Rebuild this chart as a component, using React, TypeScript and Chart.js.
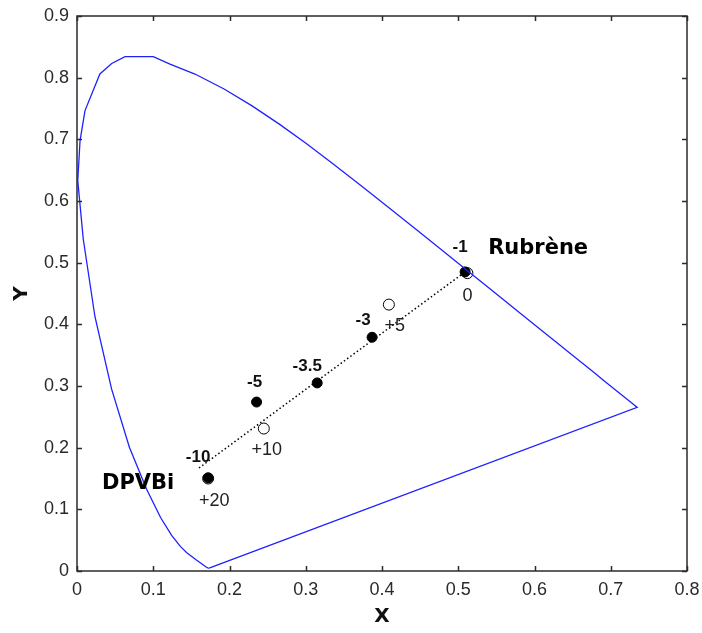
import React, { useEffect, useRef } from 'react';
import { Chart, registerables } from 'chart.js';

Chart.register(...registerables);

// Spectral locus (CIE 1931)
const locusX = [
  0.1741, 0.1733, 0.1714, 0.1689, 0.1644, 0.1566, 0.1440, 0.1355, 0.1241, 0.1096,
  0.0913, 0.0687, 0.0454, 0.0235, 0.0082, 0.0010, 0.0040, 0.0105, 0.0300, 0.0455,
  0.0630, 0.1000, 0.1220, 0.1547, 0.1929, 0.2296, 0.2658, 0.3016, 0.3373, 0.3731,
  0.4087, 0.4441, 0.4788, 0.5125, 0.5448, 0.5752, 0.6029, 0.6270, 0.6482, 0.6658,
  0.6801, 0.6915, 0.7006, 0.7079, 0.7140, 0.7190, 0.7230, 0.7260, 0.7300, 0.7347,
  0.1741,
];
const locusY = [
  0.0050, 0.0048, 0.0051, 0.0069, 0.0109, 0.0177, 0.0297, 0.0399, 0.0578, 0.0868,
  0.1327, 0.2007, 0.2950, 0.4127, 0.5384, 0.6330, 0.6980, 0.7466, 0.8060, 0.8230,
  0.8340, 0.8340, 0.8220, 0.8059, 0.7816, 0.7543, 0.7243, 0.6923, 0.6589, 0.6245,
  0.5896, 0.5547, 0.5202, 0.4866, 0.4544, 0.4242, 0.3965, 0.3725, 0.3514, 0.3340,
  0.3197, 0.3083, 0.2993, 0.2920, 0.2859, 0.2809, 0.2770, 0.2740, 0.2700, 0.2653,
  0.0050,
];

// Dotted mixing line DPVBi -> Rubrène
const mixLineX = [0.160, 0.509];
const mixLineY = [0.167, 0.485];

// Filled points (negative values)
const filledLabels = ['-1', '-3', '-3.5', '-5', '-10'];
const filledX = [0.509, 0.387, 0.315, 0.2355, 0.172];
const filledY = [0.485, 0.379, 0.305, 0.274, 0.151];

// Open points (positive values)
const openLabels = ['0', '+5', '+10', '+20'];
const openX = [0.512, 0.409, 0.245, 0.172];
const openY = [0.483, 0.432, 0.231, 0.150];

// Material names
const materialNames = ['Rubrène', 'DPVBi'];

// Tick values
const xTicks = [0, 0.1, 0.2, 0.3, 0.4, 0.5, 0.6, 0.7, 0.8];
const yTicks = [0, 0.1, 0.2, 0.3, 0.4, 0.5, 0.6, 0.7, 0.8, 0.9];

// Pixel offsets of the labels (styling only)
const filledLabelOffsets = [[-5, -25], [-9, -17], [-10, -17], [-2, -20], [-10, -21]];
const openLabelOffsets = [[0, 23], [6, 21], [3, 21], [6, 23]];
const nameOffsets = [[73, -23], [-70, 6]]; // relative to filled points -1 and -10
const nameAnchorIndex = [0, 4];

const AXIS_COLOR = '#2b2b2b';

const toPts = (xs: number[], ys: number[]) => xs.map((x, i) => ({ x, y: ys[i] }));

const framePlugin = {
  id: 'matlabFrame',
  afterDatasetsDraw(chart: any) {
    const { ctx, chartArea: a, scales } = chart;
    const len = 5;
    ctx.save();
    ctx.strokeStyle = AXIS_COLOR;
    ctx.lineWidth = 1.5;
    ctx.strokeRect(a.left, a.top, a.right - a.left, a.bottom - a.top);
    ctx.beginPath();
    for (const v of xTicks) {
      const px = Math.round(scales.x.getPixelForValue(v)) + 0.5;
      ctx.moveTo(px, a.bottom);
      ctx.lineTo(px, a.bottom - len);
      ctx.moveTo(px, a.top);
      ctx.lineTo(px, a.top + len);
    }
    for (const v of yTicks) {
      const py = Math.round(scales.y.getPixelForValue(v)) + 0.5;
      ctx.moveTo(a.left, py);
      ctx.lineTo(a.left + len, py);
      ctx.moveTo(a.right, py);
      ctx.lineTo(a.right - len, py);
    }
    ctx.stroke();

    // point labels
    const filledMeta = chart.getDatasetMeta(1);
    const openMeta = chart.getDatasetMeta(2);
    ctx.fillStyle = '#111';
    ctx.textAlign = 'center';
    ctx.textBaseline = 'middle';
    ctx.font = 'bold 17px "Liberation Sans", Arial, sans-serif';
    filledLabels.forEach((t, i) => {
      const el = filledMeta.data[i];
      ctx.fillText(t, el.x + filledLabelOffsets[i][0], el.y + filledLabelOffsets[i][1]);
    });
    ctx.fillStyle = '#222';
    ctx.font = '18px "Liberation Sans", Arial, sans-serif';
    openLabels.forEach((t, i) => {
      const el = openMeta.data[i];
      ctx.fillText(t, el.x + openLabelOffsets[i][0], el.y + openLabelOffsets[i][1]);
    });
    ctx.fillStyle = '#000';
    ctx.font = 'bold 21px "DejaVu Sans", sans-serif';
    materialNames.forEach((t, i) => {
      const el = filledMeta.data[nameAnchorIndex[i]];
      ctx.fillText(t, el.x + nameOffsets[i][0], el.y + nameOffsets[i][1]);
    });
    ctx.restore();
  },
};

export default function App() {
  const ref = useRef<HTMLCanvasElement | null>(null);

  useEffect(() => {
    document.body.style.margin = '0';
    const canvas = ref.current;
    if (!canvas) return;
    const tickFont = { family: '"Liberation Sans", Arial, sans-serif', size: 18 };
    const chart = new Chart(canvas, {
      type: 'scatter',
      data: {
        datasets: [
          {
            label: 'locus',
            data: toPts(locusX, locusY),
            showLine: true,
            borderColor: '#2020ff',
            borderWidth: 1.3,
            pointRadius: 0,
            fill: false,
            tension: 0,
            order: 0,
          },
          {
            label: 'filled',
            data: toPts(filledX, filledY),
            showLine: false,
            pointRadius: 5,
            pointBackgroundColor: '#000',
            pointBorderColor: '#000',
            pointBorderWidth: 1,
            order: 1,
          },
          {
            label: 'open',
            data: toPts(openX, openY),
            showLine: false,
            pointRadius: 5.5,
            pointBackgroundColor: '#fff',
            pointBorderColor: '#000',
            pointBorderWidth: 1,
            order: 2,
          },
          {
            label: 'mix',
            data: toPts(mixLineX, mixLineY),
            showLine: true,
            borderColor: '#000',
            borderWidth: 1.5,
            borderDash: [1.5, 2.5],
            pointRadius: 0,
            order: 3,
          },
        ],
      },
      options: {
        responsive: false,
        animation: false,
        devicePixelRatio: 1,
        layout: { padding: { top: 16, right: 15, left: 0, bottom: 0 } },
        plugins: { legend: { display: false }, tooltip: { enabled: false } },
        scales: {
          x: {
            type: 'linear',
            min: 0,
            max: 0.8,
            afterBuildTicks: (s: any) => {
              s.ticks = xTicks.map((v) => ({ value: v }));
            },
            afterFit: (s: any) => {
              s.height = 62;
              s.paddingLeft = 0;
              s.paddingRight = 0;
            },
            grid: { display: false, drawTicks: false },
            border: { display: false },
            ticks: {
              padding: 8,
              color: '#2a2a2a',
              font: tickFont,
              maxRotation: 0,
              autoSkip: false,
              callback: (v: any) => String(Math.round(Number(v) * 10) / 10),
            },
            title: {
              display: true,
              text: 'X',
              color: '#111',
              font: { family: '"DejaVu Sans", sans-serif', size: 20, weight: 'bold' },
              padding: { top: 0, bottom: 4 },
            },
          },
          y: {
            type: 'linear',
            min: 0,
            max: 0.9,
            afterBuildTicks: (s: any) => {
              s.ticks = yTicks.map((v) => ({ value: v }));
            },
            afterFit: (s: any) => {
              s.width = 77;
              s.paddingTop = 0;
              s.paddingBottom = 0;
            },
            grid: { display: false, drawTicks: false },
            border: { display: false },
            ticks: {
              padding: 8,
              color: '#2a2a2a',
              font: tickFont,
              autoSkip: false,
              callback: (v: any) => String(Math.round(Number(v) * 10) / 10),
            },
            title: {
              display: true,
              text: 'Y',
              color: '#111',
              font: { family: '"DejaVu Sans", sans-serif', size: 20, weight: 'bold' },
              padding: { top: 10, bottom: 0 },
            },
          },
        },
      },
      plugins: [framePlugin],
    } as any);
    return () => chart.destroy();
  }, []);

  return (
    <div style={{ width: 702, height: 633 }}>
      <canvas ref={ref} width={702} height={633} style={{ display: 'block' }} />
    </div>
  );
}
